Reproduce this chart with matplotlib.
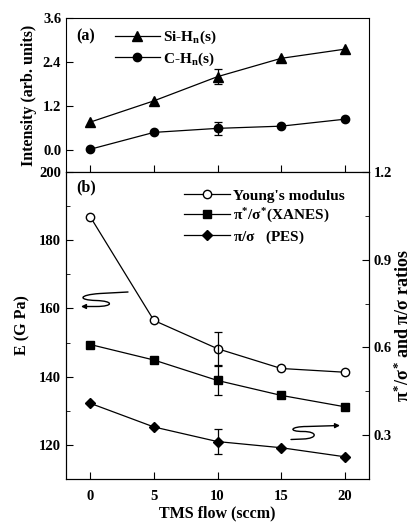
import matplotlib
matplotlib.use("Agg")
import matplotlib.pyplot as plt
from matplotlib.path import Path
from matplotlib.patches import FancyArrowPatch

plt.rcParams['font.family'] = ['Liberation Serif', 'DejaVu Serif']
plt.rcParams['font.weight'] = 'bold'
plt.rcParams['mathtext.fontset'] = 'custom'
plt.rcParams['mathtext.rm'] = 'Liberation Serif:bold'
plt.rcParams['mathtext.it'] = 'Liberation Serif:bold'
plt.rcParams['mathtext.bf'] = 'Liberation Serif:bold'

# ---- data ----
tms_flow = [0, 5, 10, 15, 20]
si_h = [0.76, 1.34, 2.00, 2.50, 2.75]
c_h = [0.02, 0.48, 0.59, 0.65, 0.84]
si_h_err = 0.20
c_h_err = 0.18
young = [186.9, 156.5, 148.2, 142.4, 141.3]
young_err = 4.8
xanes = [0.610, 0.557, 0.487, 0.436, 0.397]
xanes_err = 0.050
pes = [0.409, 0.328, 0.278, 0.257, 0.226]
pes_err = 0.042
err_idx = 2

x_ticks = [0, 5, 10, 15, 20]
top_yticks = [0.0, 1.2, 2.4, 3.6]
left_yticks = [120, 140, 160, 180, 200]
right_yticks = [0.3, 0.6, 0.9, 1.2]

W, H = 420, 522
fig = plt.figure(figsize=(W / 100, H / 100), dpi=100)
L, R = 66 / W, 369 / W
ax1 = fig.add_axes([L, 1 - 172 / H, R - L, (172 - 18) / H])
ax2 = fig.add_axes([L, 1 - 479 / H, R - L, (479 - 172) / H])
ax3 = ax2.twinx()

lw = 0.9
fs_tick = 10.5
fs_lab = 11.5

# ---- top panel ----
ax1.plot(tms_flow, si_h, color='black', lw=lw, marker='^', ms=6.5, label='Si-H$_{n}$(s)')
ax1.plot(tms_flow, c_h, color='black', lw=lw, marker='o', ms=6, label='C-H$_{n}$(s)')
ax1.errorbar(tms_flow[err_idx], si_h[err_idx], yerr=si_h_err, color='black', lw=lw, capsize=3, capthick=lw)
ax1.errorbar(tms_flow[err_idx], c_h[err_idx], yerr=c_h_err, color='black', lw=lw, capsize=3, capthick=lw)
ax1.set_xlim(-1.9, 21.9)
ax1.set_ylim(-0.6, 3.6)
ax1.set_yticks(top_yticks)
ax1.set_yticklabels(['0.0', '1.2', '2.4', '3.6'])
ax1.set_xticks(x_ticks)
ax1.tick_params(axis='x', direction='in', length=5, labelbottom=False, bottom=True, top=False)
ax1.tick_params(axis='y', direction='in', length=5, labelsize=fs_tick)
ax1.set_ylabel('Intensity (arb. units)', fontsize=fs_lab, fontweight='bold', labelpad=4)
ax1.text(0.035, 0.93, '(a)', transform=ax1.transAxes, fontsize=fs_lab, fontweight='bold', va='top')
ax1.legend(loc='upper left', bbox_to_anchor=(0.14, 0.97), frameon=False, fontsize=fs_lab - 0.5,
           handlelength=3.0, handletextpad=0.2, borderaxespad=0, labelspacing=0.3)

# ---- bottom panel ----
h1, = ax2.plot(tms_flow, young, color='black', lw=lw, marker='o', ms=6, mfc='white', mec='black',
               label="Young's modulus")
ax2.errorbar(tms_flow[err_idx], young[err_idx], yerr=young_err, color='black', lw=lw, capsize=3, capthick=lw)
h2, = ax3.plot(tms_flow, xanes, color='black', lw=lw, marker='s', ms=5.5, label=r'$\pi^{*}/\sigma^{*}$(XANES)')
ax3.errorbar(tms_flow[err_idx], xanes[err_idx], yerr=xanes_err, color='black', lw=lw, capsize=3, capthick=lw)
h3, = ax3.plot(tms_flow, pes, color='black', lw=lw, marker='D', ms=5.5, label=r'$\pi/\sigma$   (PES)')
ax3.errorbar(tms_flow[err_idx], pes[err_idx], yerr=pes_err, color='black', lw=lw, capsize=3, capthick=lw)

ax2.set_xlim(-1.9, 21.9)
ax2.set_ylim(110, 200)
ax3.set_ylim(0.15, 1.2)
ax2.set_xticks(x_ticks)
ax2.set_yticks(left_yticks)
ax2.set_yticks([130, 150, 170, 190], minor=True)
ax3.set_yticks(right_yticks)
ax3.set_yticks([0.45, 0.75, 1.05], minor=True)
ax3.set_yticklabels(['0.3', '0.6', '0.9', '1.2'])
ax2.tick_params(axis='x', direction='in', length=5, labelsize=fs_tick, top=False, pad=8)
ax2.tick_params(axis='y', which='major', direction='in', length=5, labelsize=fs_tick)
ax2.tick_params(axis='y', which='minor', direction='in', length=3)
ax3.tick_params(axis='y', which='major', direction='in', length=5, labelsize=fs_tick)
ax3.tick_params(axis='y', which='minor', direction='in', length=3)
ax2.set_xlabel('TMS flow (sccm)', fontsize=fs_lab, fontweight='bold', labelpad=2)
ax2.set_ylabel('E (G Pa)', fontsize=fs_lab, fontweight='bold', labelpad=6)
ax3.set_ylabel(r'$\pi^{*}/\sigma^{*}$ and $\pi/\sigma$ ratios', fontsize=13, fontweight='bold',
               labelpad=1)
ax2.text(0.035, 0.975, '(b)', transform=ax2.transAxes, fontsize=fs_lab, fontweight='bold', va='top')
ax3.legend(handles=[h1, h2, h3], loc='upper left', bbox_to_anchor=(0.37, 0.965), frameon=False,
           fontsize=fs_lab - 0.5, handlelength=3.0, handletextpad=0.2, borderaxespad=0, labelspacing=0.25)

# ---- squiggle arrows (annotation decorations, placed in axes fraction) ----
def frac(px, py):
    return ((px - 66) / 303, (479 - py) / 307)

def squiggle(pts, codes):
    verts = [frac(*p) for p in pts]
    p = Path(verts, codes)
    a = FancyArrowPatch(path=p, arrowstyle='-|>', mutation_scale=7, lw=1.0, color='black',
                        transform=ax2.transAxes)
    ax2.add_patch(a)

C4 = Path.CURVE4
squiggle([(128, 292), (100, 293.5), (78, 295), (78, 300), (96, 300.5),
          (114, 301), (114, 306.5), (96, 306.5), (81, 306.5)],
         [Path.MOVETO, Path.LINETO, C4, C4, C4, C4, C4, C4, Path.LINETO])
squiggle([(291, 439.5), (303, 439), (318, 438.5), (318, 431.5), (303, 431.5),
          (288, 431.5), (290, 426.5), (307, 426.5), (340, 425.5)],
         [Path.MOVETO, Path.LINETO, C4, C4, C4, C4, C4, C4, Path.LINETO])

fig.savefig('out.png', dpi=100)
